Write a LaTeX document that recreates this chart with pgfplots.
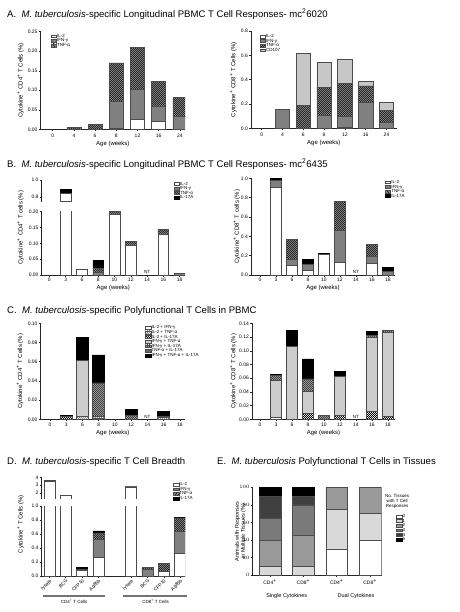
\documentclass[border=0pt]{standalone}
\usepackage{fontspec}
\setmainfont{Liberation Sans}
\usepackage{pgfplots}
\pgfplotsset{compat=1.18}
\usetikzlibrary{patterns,patterns.meta}

\pgfdeclarepattern{name=fcheck, type=uncolored, bottom left={\pgfpointorigin}, top right={\pgfqpoint{2.4pt}{2.4pt}}, tile size={\pgfqpoint{2.4pt}{2.4pt}}, code={\pgfpathrectangle{\pgfpointorigin}{\pgfqpoint{1.2pt}{1.2pt}}\pgfpathrectangle{\pgfqpoint{1.2pt}{1.2pt}}{\pgfqpoint{1.2pt}{1.2pt}}\pgfusepath{fill}}}

\pgfplotsset{
  gp/.style={scale only axis, anchor=south west, axis lines*=left,
    axis line style={-, line width=0.55bp, black!85},
    tick align=outside, major tick length=2bp, tick style={line width=0.45bp, black!85},
    tick label style={font=\fontsize{5}{6}\selectfont, inner sep=1bp},
    label style={font=\fontsize{6}{7}\selectfont},
    ybar stacked, ymin=0, clip mode=individual,
    legend cell align=left,
    legend style={draw=none, fill=none, font=\fontsize{4.5}{5}\selectfont, anchor=north west, row sep=0bp,
      nodes={inner sep=0.3bp, text height=3.2bp, text depth=0.8bp}},
    every axis plot/.append style={line width=0.55bp},
    xlabel style={anchor=center}, ylabel style={anchor=center}},
  lgd/.style={legend image code/.code={\draw[##1] (0bp,-1.4bp) rectangle (5.5bp,1.4bp);}},
  il2/.style={fill=white, draw=black!70, lgd},
  ifn/.style={fill=black!50, draw=black!70, lgd},
  tnf/.style={fill=black!45, draw=black!70, postaction={pattern=fcheck, pattern color=black!85}, lgd},
  cd107/.style={fill=black!22, draw=black!70, lgd},
  il17/.style={fill=black, draw=black, lgd},
  pa/.style={fill=white, draw=black!70, lgd},
  pb/.style={fill=white, draw=black!70, postaction={pattern=fcheck, pattern color=black!45}, lgd},
  pc/.style={fill=white, draw=black!70, postaction={pattern=fcheck, pattern color=black}, lgd},
  pd/.style={fill=black!20, draw=black!70, lgd},
  pe/.style={fill=black!35, draw=black!70, postaction={pattern=fcheck, pattern color=black!75}, lgd},
  pf/.style={fill=black!60, draw=black!70, lgd},
  pg/.style={fill=black, draw=black, lgd},
  ea/.style={fill=white, draw=black!70, lgd},
  eb/.style={fill=black!15, draw=black!70, lgd},
  ec/.style={fill=black!40, draw=black!70, lgd},
  ed/.style={fill=black!52, draw=black!70, lgd},
  ee/.style={fill=black!75, draw=black!70, lgd},
  ef/.style={fill=black, draw=black, lgd},
}
\newcommand{\ttl}{\fontsize{9.6}{11}\selectfont}
\newcommand{\sml}{\fontsize{4.5}{5}\selectfont}

\begin{document}
\begin{tikzpicture}
\path[use as bounding box] (0,0) rectangle (460bp,-612bp);

% Titles
\node[anchor=base west, font=\ttl, inner sep=0] at (7bp,-17.5bp) {A.\ \ \textit{M. tuberculosis}-specific Longitudinal PBMC T Cell Responses- mc\textsuperscript{2}6020};
\node[anchor=base west, font=\ttl, inner sep=0] at (7bp,-167.5bp) {B.\ \ \textit{M. tuberculosis}-specific Longitudinal PBMC T Cell Responses- mc\textsuperscript{2}6435};
\node[anchor=base west, font=\ttl, inner sep=0] at (7bp,-313.5bp) {C.\ \ \textit{M. tuberculosis}-specific Polyfunctional T Cells in PBMC};
\node[anchor=base west, font=\ttl, inner sep=0] at (7bp,-464bp) {D.\ \ \textit{M. tuberculosis}-specific T Cell Breadth};
\node[anchor=base west, font=\ttl, inner sep=0] at (217bp,-464bp) {E.\ \ \textit{M. tuberculosis} Polyfunctional T Cells in Tissues};

% ---------------- A left
\begin{axis}[gp, at={(40.7bp,-129.3bp)}, width=144.3bp, height=97.6bp,
  xmin=-0.566, xmax=6.24, ymax=0.25, bar width=14bp,
  xtick={0,...,6}, xticklabels={0,4,6,8,12,16,24},
  ytick={0,0.05,0.1,0.15,0.2,0.25}, yticklabels={0.00,0.05,0.10,0.15,0.20,0.25},
  xticklabel style={yshift=-1.5bp},
  xlabel={Age (weeks)}, ylabel={Cytokine\textsuperscript{+} CD4\textsuperscript{+} T Cells (\%)},
  xlabel style={at={(axis description cs:0.5,-0.151)}},
  ylabel style={at={(axis description cs:-0.139,0.5)}},
  legend style={at={(0.0485,1.0)}}]
\addplot[il2] coordinates {(0,0) (1,0) (2,0) (3,0.003) (4,0.025) (5,0.02) (6,0)};
\addplot[ifn] coordinates {(0,0) (1,0) (2,0) (3,0.069) (4,0.077) (5,0.04) (6,0.033)};
\addplot[tnf] coordinates {(0,0) (1,0.005) (2,0.013) (3,0.098) (4,0.108) (5,0.063) (6,0.048)};
\legend{IL-2,IFN-γ,TNF-α}
\end{axis}

% ---------------- A right
\begin{axis}[gp, at={(251bp,-128.3bp)}, width=145.7bp, height=97.3bp,
  xmin=-0.514, xmax=6.49, ymax=0.8, bar width=14.5bp,
  xtick={0,...,6}, xticklabels={0,4,6,8,12,16,24},
  ytick={0,0.2,0.4,0.6,0.8}, yticklabels={0.0,0.2,0.4,0.6,0.8},
  xticklabel style={yshift=-1.5bp},
  xlabel={Age (weeks)}, ylabel={Cytokine\textsuperscript{+} CD8\textsuperscript{+} T Cells (\%)},
  xlabel style={at={(axis description cs:0.5,-0.148)}},
  ylabel style={at={(axis description cs:-0.121,0.5)}},
  legend style={at={(0.039,0.99)}}]
\addplot[il2] coordinates {(0,0) (1,0) (2,0) (3,0) (4,0.01) (5,0) (6,0)};
\addplot[ifn] coordinates {(0,0) (1,0.155) (2,0) (3,0.11) (4,0.09) (5,0.21) (6,0.046)};
\addplot[tnf] coordinates {(0,0) (1,0) (2,0.19) (3,0.227) (4,0.27) (5,0.138) (6,0.099)};
\addplot[cd107] coordinates {(0,0) (1,0) (2,0.427) (3,0.203) (4,0.197) (5,0.035) (6,0.069)};
\legend{IL-2,IFN-γ,TNF-α,CD107}
\end{axis}

% ---------------- B left (broken axis)
\begin{axis}[gp, at={(41.7bp,-201.6bp)}, width=143.3bp, height=21.6bp,
  xmin=-0.47, xmax=8.33, ymin=0.75, ymax=1.0, bar width=10.7bp,
  axis x line=none, axis y line*=left, xtick=\empty,
  ytick={0.8,1.0}, yticklabels={0.8,1.0}]
\addplot[il2] coordinates {(1,0.845)};
\addplot[ifn] coordinates {(1,0)};
\addplot[tnf] coordinates {(1,0)};
\addplot[il17] coordinates {(1,0.05)};
\end{axis}
\begin{axis}[gp, at={(41.7bp,-275bp)}, width=143.3bp, height=63.3bp,
  xmin=-0.47, xmax=8.33, ymax=0.2, bar width=10.7bp,
  xtick={0,...,8}, xticklabels={0,3,6,8,10,12,14,16,18},
  ytick={0,0.05,0.1,0.15,0.2}, yticklabels={0.00,0.05,0.10,0.15,0.20},
  xlabel={Age (weeks)}, ylabel={Cytokine\textsuperscript{+} CD4\textsuperscript{+} T cells (\%)},
  xlabel style={at={(axis description cs:0.5,-0.2)}},
  ylabel style={at={(axis description cs:-0.147,0.75)}},
  legend style={at={(0.9,1.51)}}]
\addplot[il2] coordinates {(0,0) (1,0.845) (2,0.018) (3,0) (4,0.193) (5,0.095) (6,0) (7,0.13) (8,0)};
\addplot[ifn] coordinates {(0,0) (1,0) (2,0) (3,0.01) (4,0) (5,0) (6,0) (7,0) (8,0.004)};
\addplot[tnf] coordinates {(0,0) (1,0) (2,0) (3,0.012) (4,0.007) (5,0.012) (6,0) (7,0.013) (8,0.002)};
\addplot[il17] coordinates {(0,0) (1,0.05) (2,0) (3,0.024) (4,0) (5,0) (6,0) (7,0) (8,0)};
\legend{IL-2,IFN-γ,TNF-α,IL-17A}
\node[font=\sml, anchor=south, inner sep=1bp] at (axis cs:6,0) {NT};
\end{axis}

% ---------------- B right
\begin{axis}[gp, at={(251bp,-275bp)}, width=144bp, height=96.7bp,
  xmin=-0.56, xmax=8.44, ymax=1.0, bar width=10.7bp,
  xtick={0,...,8}, xticklabels={0,3,6,8,10,12,14,16,18},
  ytick={0,0.2,0.4,0.6,0.8,1.0}, yticklabels={0.0,0.2,0.4,0.6,0.8,1.0},
  xlabel={Age (weeks)}, ylabel={Cytokine\textsuperscript{+} CD8\textsuperscript{+} T cells (\%)},
  xlabel style={at={(axis description cs:0.5,-0.131)}},
  ylabel style={at={(axis description cs:-0.099,0.5)}},
  legend style={at={(0.908,1.006)}}]
\addplot[il2] coordinates {(0,0) (1,0.91) (2,0.1) (3,0.045) (4,0.21) (5,0.13) (6,0) (7,0.12) (8,0)};
\addplot[ifn] coordinates {(0,0) (1,0.07) (2,0.065) (3,0.065) (4,0) (5,0.335) (6,0) (7,0.07) (8,0.04)};
\addplot[tnf] coordinates {(0,0) (1,0) (2,0.205) (3,0) (4,0) (5,0.295) (6,0) (7,0.125) (8,0)};
\addplot[il17] coordinates {(0,0) (1,0.02) (2,0) (3,0.05) (4,0.015) (5,0) (6,0) (7,0) (8,0.04)};
\legend{IL-2,IFN-γ,TNF-α,IL-17A}
\node[font=\sml, anchor=south, inner sep=1bp] at (axis cs:6,0) {NT};
\end{axis}

% ---------------- C left
\begin{axis}[gp, at={(40.7bp,-419.3bp)}, width=144.3bp, height=96bp,
  xmin=-0.57, xmax=8.31, ymax=0.1, bar width=12bp,
  xtick={0,...,8}, xticklabels={0,3,6,8,10,12,14,16,18},
  ytick={0,0.02,0.04,0.06,0.08,0.1}, yticklabels={0.00,0.02,0.04,0.06,0.08,0.10},
  xticklabel style={yshift=-1bp},
  xlabel={Age (weeks)}, ylabel={Cytokine\textsuperscript{+} CD4\textsuperscript{+} T Cells (\%)},
  xlabel style={at={(axis description cs:0.5,-0.14)}},
  ylabel style={at={(axis description cs:-0.143,0.5)}},
  legend style={at={(0.702,1.0)}}]
\addplot[pa] coordinates {(0,0) (1,0) (2,0) (3,0.001) (4,0) (5,0) (6,0) (7,0) (8,0)};
\addplot[pb] coordinates {(0,0) (1,0) (2,0.003) (3,0.002) (4,0) (5,0) (6,0) (7,0.002) (8,0)};
\addplot[pc] coordinates {(0,0) (1,0.003) (2,0) (3,0) (4,0) (5,0) (6,0) (7,0) (8,0)};
\addplot[pd] coordinates {(0,0) (1,0) (2,0.058) (3,0) (4,0) (5,0) (6,0) (7,0) (8,0)};
\addplot[pe] coordinates {(0,0) (1,0) (2,0) (3,0.035) (4,0) (5,0.004) (6,0) (7,0.001) (8,0)};
\addplot[pf] coordinates {(0,0) (1,0) (2,0) (3,0) (4,0) (5,0) (6,0) (7,0) (8,0)};
\addplot[pg] coordinates {(0,0) (1,0.001) (2,0.024) (3,0.029) (4,0) (5,0.006) (6,0) (7,0.005) (8,0)};
\legend{IL-2 + IFN-γ,IL-2 + TNF-α,IL-2 + IL-17A,IFN-γ + TNF-α,IFN-γ + IL-17A,TNF-α + IL-17A,IFN-γ + TNF-α + IL-17A}
\node[font=\sml, anchor=south, inner sep=1bp] at (axis cs:6,0) {NT};
\end{axis}

% ---------------- C right
\begin{axis}[gp, at={(252bp,-419.3bp)}, width=143bp, height=96bp,
  xmin=-0.5, xmax=8.44, ymax=0.14, bar width=10.7bp,
  xtick={0,...,8}, xticklabels={0,3,6,8,10,12,14,16,18},
  ytick={0,0.02,0.04,0.06,0.08,0.1,0.12,0.14}, yticklabels={0.00,0.02,0.04,0.06,0.08,0.10,0.12,0.14},
  xticklabel style={yshift=-1bp},
  xlabel={Age (weeks)}, ylabel={Cytokine\textsuperscript{+} CD8\textsuperscript{+} T Cells (\%)},
  xlabel style={at={(axis description cs:0.5,-0.14)}},
  ylabel style={at={(axis description cs:-0.13,0.5)}}]
\addplot[pa] coordinates {(0,0) (1,0.003) (2,0) (3,0) (4,0) (5,0) (6,0) (7,0) (8,0)};
\addplot[pb] coordinates {(0,0) (1,0) (2,0) (3,0) (4,0) (5,0) (6,0) (7,0) (8,0)};
\addplot[pc] coordinates {(0,0) (1,0) (2,0) (3,0.009) (4,0) (5,0.006) (6,0) (7,0.012) (8,0.004)};
\addplot[pd] coordinates {(0,0) (1,0.054) (2,0.106) (3,0.032) (4,0) (5,0.057) (6,0) (7,0.108) (8,0.123)};
\addplot[pe] coordinates {(0,0) (1,0.007) (2,0) (3,0.018) (4,0.006) (5,0) (6,0) (7,0.002) (8,0.003)};
\addplot[pf] coordinates {(0,0) (1,0) (2,0) (3,0) (4,0) (5,0) (6,0) (7,0) (8,0)};
\addplot[pg] coordinates {(0,0) (1,0.002) (2,0.024) (3,0.029) (4,0) (5,0.007) (6,0) (7,0.006) (8,0)};
\node[font=\sml, anchor=south, inner sep=1bp] at (axis cs:6,0) {NT};
\end{axis}

% ---------------- D (broken axis)
\begin{axis}[gp, at={(41.7bp,-498.9bp)}, width=143.3bp, height=21.6bp,
  xmin=-0.47, xmax=8.3, ymin=1.2, ymax=4.0, bar width=11bp,
  axis x line=none, axis y line*=left, xtick=\empty,
  ytick={2,3,4}, yticklabels={2,3,4}]
\addplot[il2] coordinates {(0,3.52) (1,1.65) (5,2.75)};
\addplot[ifn] coordinates {(0,0.13) (1,0) (5,0.1)};
\addplot[tnf] coordinates {(0,0) (1,0) (5,0)};
\addplot[il17] coordinates {(0,0) (1,0) (5,0)};
\end{axis}
\begin{axis}[gp, at={(41.7bp,-576bp)}, width=143.3bp, height=70bp,
  xmin=-0.47, xmax=8.3, ymax=1.0, bar width=11bp,
  xtick={0,1,2,3,5,6,7,8}, xticklabels={lysate,BCG,CFP10,Ag85b,lysate,BCG,CFP10,Ag85b},
  xticklabel style={rotate=45, anchor=north east, inner sep=0.4bp, font=\fontsize{4.8}{5.5}\selectfont},
  ytick={0,0.2,0.4,0.6,0.8,1.0}, yticklabels={0.0,0.2,0.4,0.6,0.8,1.0},
  ylabel={Cytokine\textsuperscript{+} T Cells (\%)},
  ylabel style={at={(axis description cs:-0.147,0.74)}},
  legend style={at={(0.895,1.37)}}]
\addplot[il2] coordinates {(0,3.52) (1,1.65) (2,0.075) (3,0.27) (5,2.75) (6,0) (7,0.07) (8,0.325)};
\addplot[ifn] coordinates {(0,0.13) (1,0) (2,0.02) (3,0.25) (5,0.1) (6,0.09) (7,0) (8,0.315)};
\addplot[tnf] coordinates {(0,0) (1,0) (2,0.005) (3,0.09) (5,0) (6,0.03) (7,0.105) (8,0.19)};
\addplot[il17] coordinates {(0,0) (1,0) (2,0.02) (3,0.035) (5,0) (6,0) (7,0.01) (8,0.01)};
\legend{IL-2,IFN-γ,TNF-α,IL-17A}
\draw[black!55, line width=1.2bp] ([yshift=-19.9bp]axis cs:-0.39,0) -- ([yshift=-19.9bp]axis cs:3.41,0);
\draw[black!55, line width=1.2bp] ([yshift=-19.9bp]axis cs:4.5,0) -- ([yshift=-19.9bp]axis cs:8.43,0);
\node[font=\sml, inner sep=0] at ([yshift=-25.2bp]axis cs:1.51,0) {CD4\textsuperscript{+} T Cells};
\node[font=\sml, inner sep=0] at ([yshift=-25.2bp]axis cs:6.5,0) {CD8\textsuperscript{+} T Cells};
\end{axis}

% ---------------- E
\begin{axis}[gp, at={(252.7bp,-575.3bp)}, width=129bp, height=88bp,
  xmin=-0.52, xmax=3.35, ymax=100, bar width=21.7bp,
  xtick={0,1,2,3}, xticklabels={{CD4\textsuperscript{+}},{CD8\textsuperscript{+}},{CD4\textsuperscript{+}},{CD8\textsuperscript{+}}},
  xticklabel style={yshift=-1bp},
  ytick={0,20,40,60,80,100},
  ylabel={Animals with Responses\\in Multiple Tissues (\%)},
  ylabel style={align=center, font=\fontsize{5.5}{6}\selectfont, at={(axis description cs:-0.095,0.5)}},
  legend style={at={(1.088,0.72)}}]
\addplot[ea] coordinates {(0,0) (1,0) (2,30) (3,40)};
\addplot[eb] coordinates {(0,10) (1,10) (2,45) (3,30)};
\addplot[ec] coordinates {(0,30) (1,35) (2,25) (3,30)};
\addplot[ed] coordinates {(0,25) (1,35) (2,0) (3,0)};
\addplot[ee] coordinates {(0,25) (1,10) (2,0) (3,0)};
\addplot[ef] coordinates {(0,10) (1,10) (2,0) (3,0)};
\legend{0,1,2,3,4,5}
\node[font=\sml, align=center, inner sep=0] at (axis description cs:1.119,0.839) {No. Tissues\\with T Cell\\Responses};
\node[font=\fontsize{5.5}{6}\selectfont, inner sep=0] at ([yshift=-20.4bp]axis cs:0.5,0) {Single Cytokines};
\node[font=\fontsize{5.5}{6}\selectfont, inner sep=0] at ([yshift=-20.4bp]axis cs:2.58,0) {Dual Cytokines};
\end{axis}
\end{tikzpicture}
\end{document}
